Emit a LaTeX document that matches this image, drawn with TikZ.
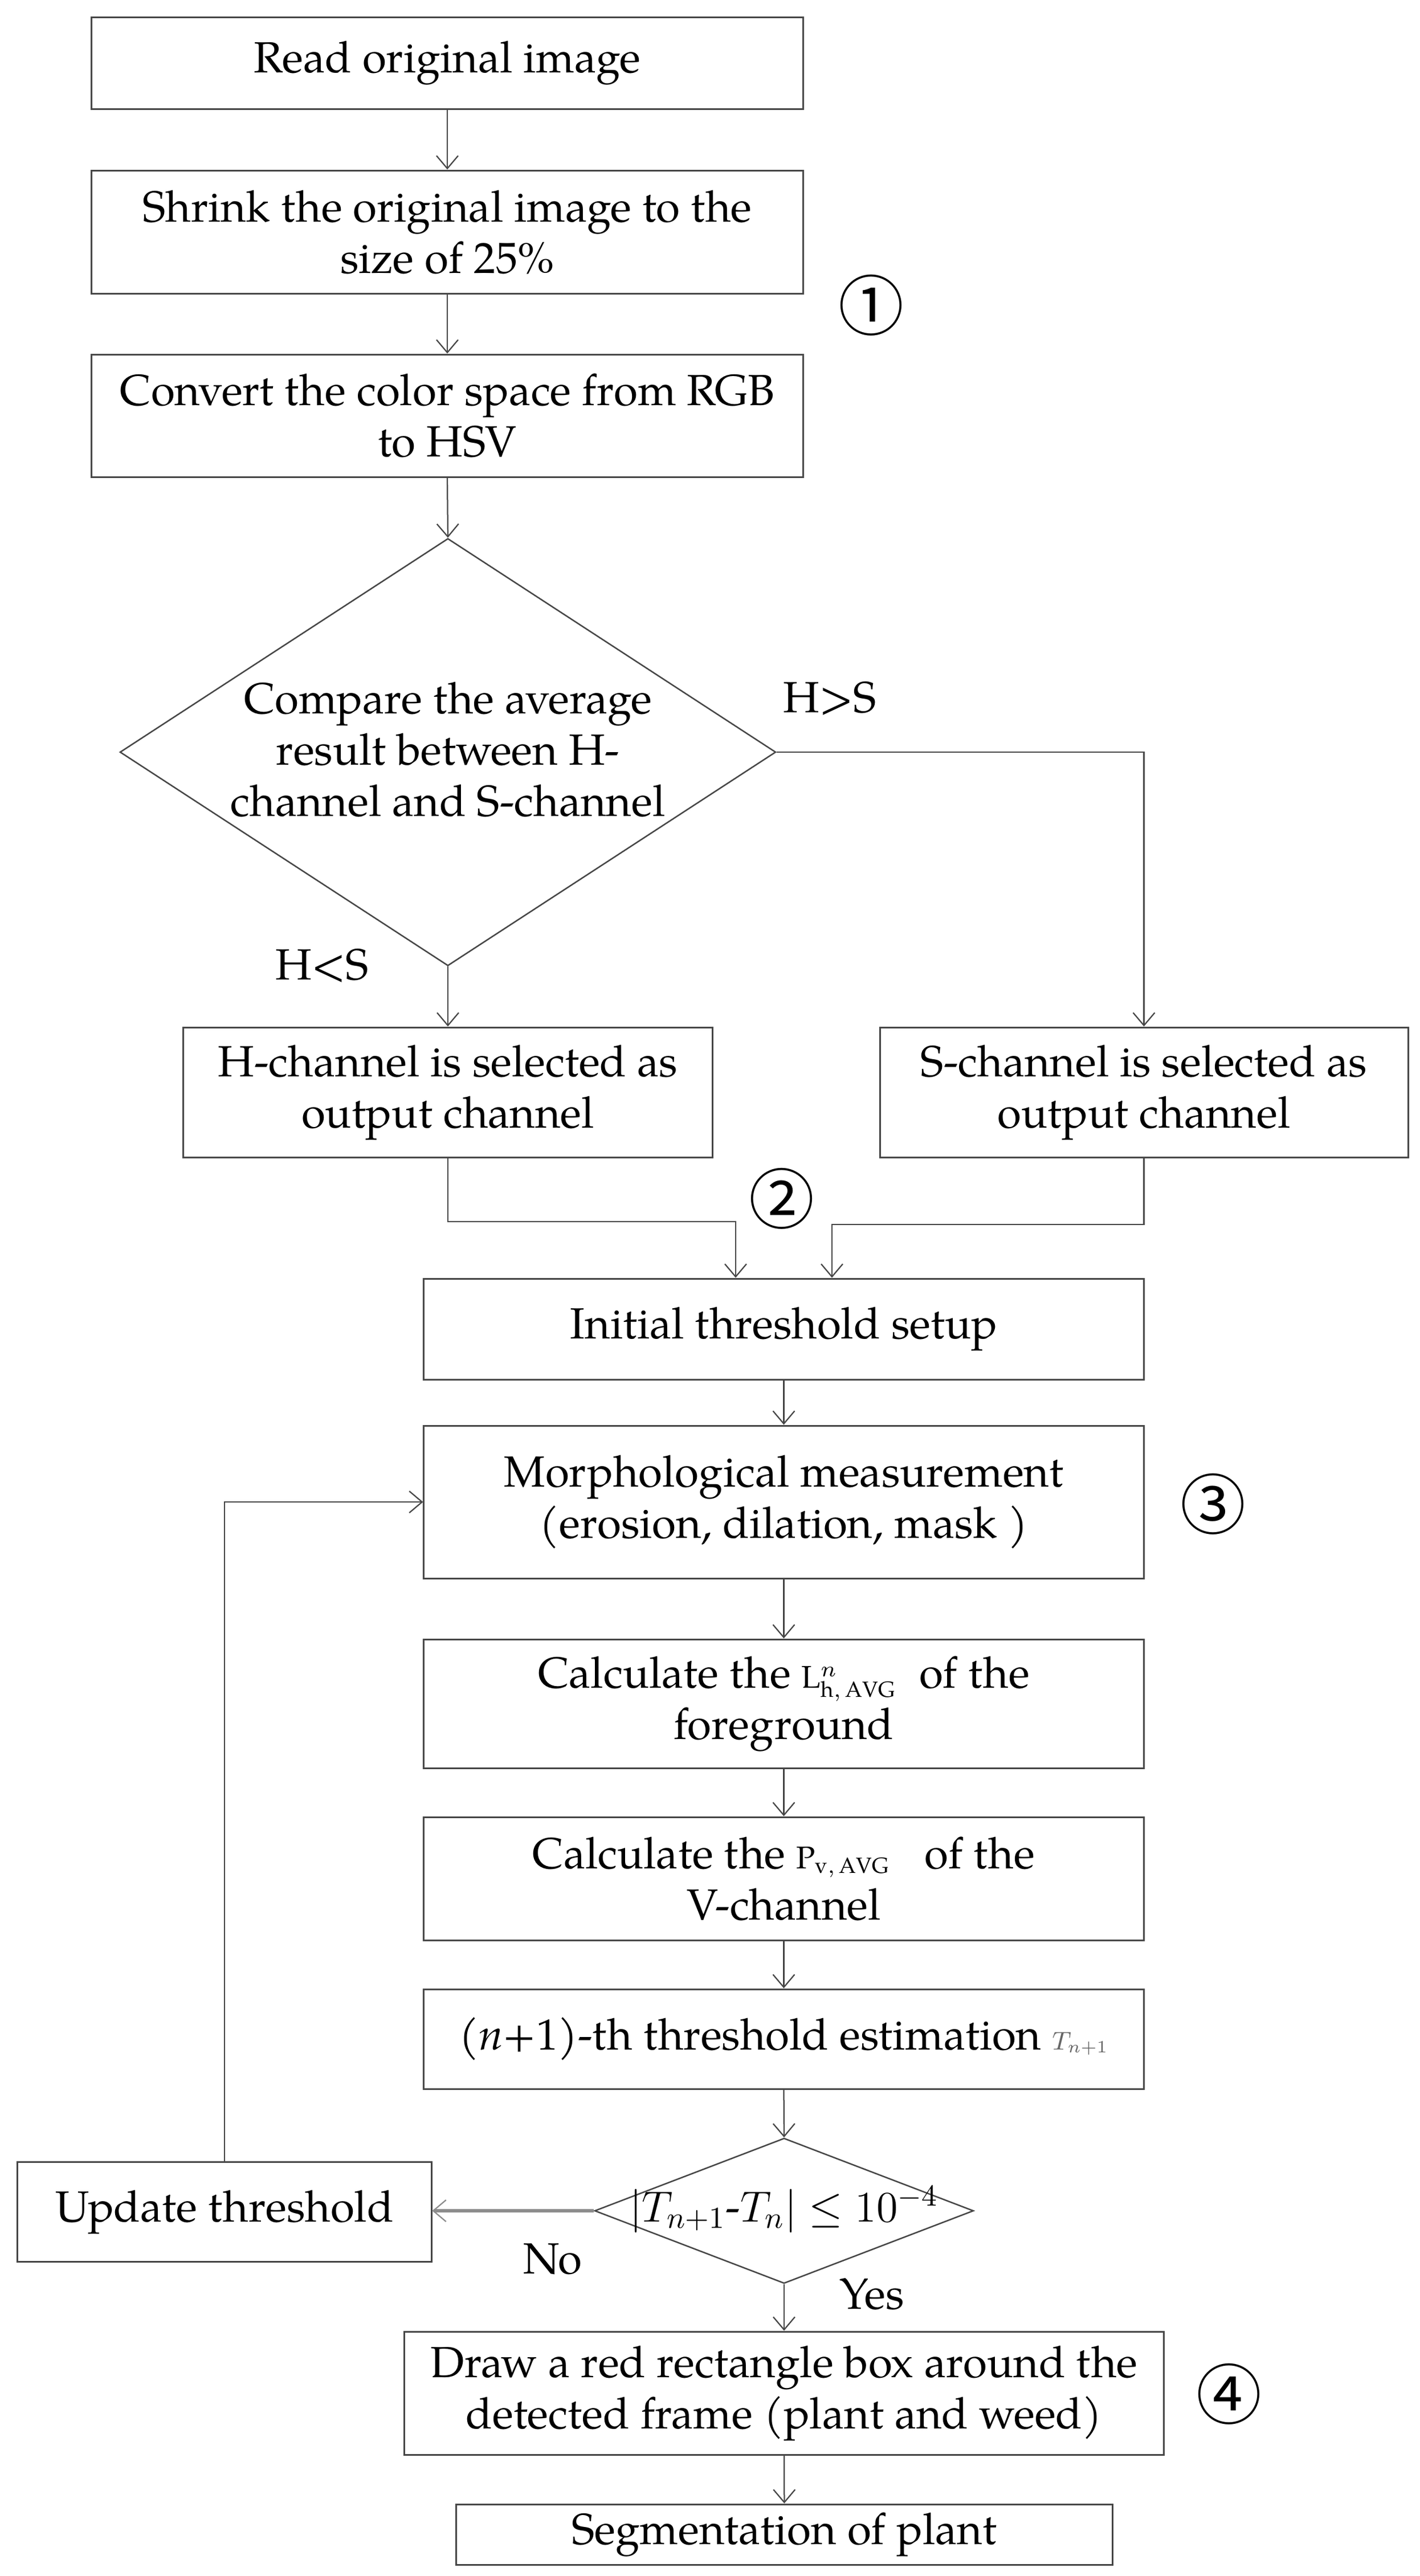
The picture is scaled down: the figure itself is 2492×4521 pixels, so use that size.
\RequirePackage{fix-cm}
\documentclass[tikz,border=0pt]{standalone}
\usepackage{fontspec}
\setmainfont{TeX Gyre Pagella}
\newfontfamily\circfont{Noto Sans CJK SC}
\usetikzlibrary{arrows.meta,shapes.geometric}
\tikzset{
  txt/.style={font=\fontsize{15.3}{18}\selectfont},
  box/.style={draw=black!72, line width=0.6pt, rectangle, inner sep=0pt, align=center, txt},
  dia/.style={draw=black!72, line width=0.5pt, diamond, inner sep=0pt, txt},
  arr/.style={draw=black!72, line width=0.45pt, -{Straight Barb[length=4.5pt,width=7.6pt]}},
  noarr/.style={draw=black!45, line width=1.1pt, -{Straight Barb[length=4.5pt,width=7.6pt,line width=0.45pt]}},
  lbl/.style={inner sep=0pt, txt},
  circ/.style={inner sep=0pt, font=\circfont\fontsize{23}{23}\selectfont},
}
\begin{document}
\begin{tikzpicture}[x=0.2pt,y=-0.2pt]
\useasboundingbox (0,0) rectangle (2492,4521);
% top column
\node[box, minimum width=249.8pt, minimum height=32.2pt] (b1) at (785,110.5) {Read original image};
\node[box, minimum width=249.8pt, minimum height=43.2pt] (b2) at (785,407) {Shrink the original image to the\\size of 25\%};
\node[box, minimum width=249.8pt, minimum height=43pt] (b3) at (785,729.5) {Convert the color space from RGB\\to HSV};
\node[dia, minimum width=230.2pt, minimum height=150pt] (d1) at (786,1320) {\raisebox{-4.8pt}[0pt][0pt]{\makebox[0pt]{\begin{tabular}{@{}c@{}}Compare the average\\result between H-\\channel and S-channel\end{tabular}}}};
\node[box, minimum width=185.6pt, minimum height=45.6pt] (bh) at (786,1917) {H-channel is selected as\\output channel};
\node[box, minimum width=185.4pt, minimum height=45.6pt] (bs) at (2007.5,1917) {S-channel is selected as\\output channel};
% lower column
\node[box, minimum width=252.6pt, minimum height=35.4pt] (init) at (1375.5,2332.5) {Initial threshold setup};
\node[box, minimum width=252.6pt, minimum height=53.6pt] (morph) at (1375.5,2636) {Morphological measurement\\(erosion, dilation, mask )};
\node[box, minimum width=252.6pt, minimum height=45.2pt] (cl) at (1375.5,2990) {Calculate the {\fontsize{11}{11}\selectfont L$^{n}_{\mathrm{h,\,AVG}}$}\hspace{8pt}of the\\foreground};
\node[box, minimum width=252.6pt, minimum height=43.2pt] (cp) at (1375.5,3297) {Calculate the {\fontsize{11}{11}\selectfont P$_{\mathrm{v,\,AVG}}$}\hspace{12pt}of the\\V-channel};
\node[box, minimum width=252.6pt, minimum height=35pt] (est) at (1375.5,3578.5) {(\textit{n}+1)-th threshold estimation {\fontsize{9}{9}\selectfont\color{black!60}$T_{n+1}$}};
\node[dia, minimum width=133pt, minimum height=51pt] (d2) at (1376,3880) {\raisebox{-3.8pt}[0pt][0pt]{\makebox[0pt]{$\left|T_{n+1}\mbox{-}T_{n}\right|\leq 10^{-4}$}}};
\node[box, minimum width=145.2pt, minimum height=35pt] (upd) at (394,3882) {Update threshold};
\node[box, minimum width=266.4pt, minimum height=43.2pt] (drw) at (1376,4200) {Draw a red rectangle box around the\\detected frame (plant and weed)};
\node[box, minimum width=230.2pt, minimum height=21.2pt] (seg) at (1376.5,4448) {Segmentation of plant};
% labels
\node[lbl] (lgt) at (1456,1226) {H>S};
\node[lbl] (llt) at (565,1695) {H<S};
\node[lbl] (lno) at (970,3965) {No};
\node[lbl] (lyes) at (1530,4026) {Yes};
\node[circ] (c1) at (1529,536) {①};
\node[circ] (c2) at (1372,2104) {②};
\node[circ] (c3) at (2129,2640) {③};
\node[circ] (c4) at (2157,4202) {④};
% connectors
\draw[arr] (b1) -- (b2);
\draw[arr] (b2) -- (b3);
\draw[arr] (b3.south) -- (d1.north);
\draw[arr] (d1.south) -- (bh.north);
\draw[arr] (d1.east) -| (bs.north);
\coordinate (jl) at (1291,2144);
\coordinate (jr) at (1460,2149);
\draw[arr] (bh.south) |- (jl) -- (jl |- init.north);
\draw[arr] (bs.south) |- (jr) -- (jr |- init.north);
\draw[arr] (init) -- (morph);
\draw[arr] (morph) -- (cl);
\draw[arr] (cl) -- (cp);
\draw[arr] (cp) -- (est);
\draw[arr] (est.south) -- (d2.north);
\draw[noarr] (d2.west) -- (d2.west -| upd.east);
\draw[arr] (upd.north) |- (morph.west);
\draw[arr] (d2.south) -- (drw.north);
\draw[arr] (drw) -- (seg);
\end{tikzpicture}
\end{document}
